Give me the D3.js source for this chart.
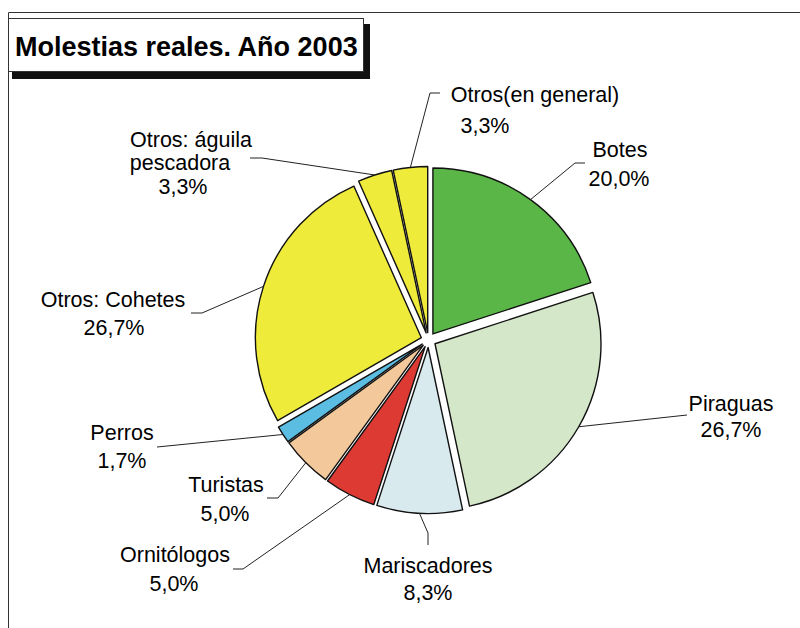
<!DOCTYPE html>
<html>
<head>
<meta charset="utf-8">
<script src="https://cdn.jsdelivr.net/npm/d3@7"></script>
<style>
    body { margin: 0; background: #fff; }
    text { font-family: "Liberation Sans", Arial, sans-serif; }
</style>
</head>
<body>
<div id="chart"></div>
<script>
// data (counts out of 60 answers)
const categories = ["Botes", "Piraguas", "Mariscadores", "Ornitólogos", "Turistas", "Perros",
    "Otros: Cohetes", "Otros: águila pescadora", "Otros(en general)"];
const counts = [12, 16, 5, 3, 3, 1, 16, 2, 2];
const labelLines = [["Botes"], ["Piraguas"], ["Mariscadores"], ["Ornitólogos"], ["Turistas"], ["Perros"],
    ["Otros: Cohetes"], ["Otros: águila", "pescadora"], ["Otros(en general)"]];
const sliceColors = ["#5ab646", "#d4e8c9", "#d8eaee", "#de3a34", "#f3c89b", "#5cbde2",
    "#efeb3a", "#efeb3a", "#efeb3a"];
const title = "Molestias reales. Año 2003";

// label placement (text line anchors + leader bends), Excel labels were dragged by hand
const labelPos = [
    {lines: [[620, 157], [619, 186]], leader: [[575, 163], [585, 163]]},
    {lines: [[731, 411], [731, 437]], leader: [[687, 415]]},
    {lines: [[428, 573], [428, 600]], leader: [[428, 533], [428, 545]]},
    {lines: [[175, 562], [174, 591]], leader: [[243, 569], [233, 569]]},
    {lines: [[226, 492], [225, 521]], leader: [[278, 498], [267, 498]]},
    {lines: [[122, 440], [122, 468]], leader: [[157, 447]]},
    {lines: [[113, 307], [114, 335]], leader: [[202, 313], [191, 313]]},
    {lines: [[191, 147], [180, 170], [183, 194]], leader: [[262, 158], [250, 158]]},
    {lines: [[535, 102], [485, 133]], leader: [[430, 93], [440, 93]]}
];

const width = 800, height = 628;
const cx = 428.5, cy = 340, radius = 166, explode = 7.5;

const svg = d3.select("#chart").append("svg")
    .attr("width", width)
    .attr("height", height);

// frame (cropped chart area)
svg.append("path")
    .attr("d", `M8.5,${height} L8.5,12.5 L${width},12.5`)
    .attr("fill", "none")
    .attr("stroke", "#333")
    .attr("stroke-width", 1);

// title box with shadow
let titleG = svg.append("g");
titleG.append("rect")
    .attr("x", 12).attr("y", 24)
    .attr("width", 358).attr("height", 55)
    .attr("fill", "#111");
titleG.append("rect")
    .attr("x", 8.5).attr("y", 18.5)
    .attr("width", 355).attr("height", 53)
    .attr("fill", "#fff")
    .attr("stroke", "#333");
titleG.append("text")
    .attr("x", 15).attr("y", 56)
    .attr("font-size", 27)
    .attr("font-weight", "bold")
    .text(title);

const total = d3.sum(counts);
const fmt = v => d3.format(".1f")(v * 100 / total).replace(".", ",") + "%";

const pie = d3.pie().sort(null).value(d => d)(counts);
const arc = d3.arc().innerRadius(0).outerRadius(radius);

const mid = d => (d.startAngle + d.endAngle) / 2;
const shift = d => [explode * Math.sin(mid(d)), -explode * Math.cos(mid(d))];

let pieG = svg.append("g").attr("transform", `translate(${cx},${cy})`);

pieG.selectAll(".slice")
    .data(pie)
    .enter()
    .append("path")
    .attr("class", "slice")
    .attr("d", arc)
    .attr("transform", d => `translate(${shift(d)[0]},${shift(d)[1]})`)
    .attr("fill", (d, i) => sliceColors[i])
    .attr("stroke", "#111")
    .attr("stroke-width", 1.4)
    .attr("stroke-linejoin", "round");

// leader lines start at the outer edge of each slice, at its mid angle
let line = d3.line();
svg.selectAll(".leader")
    .data(pie)
    .enter()
    .append("path")
    .attr("class", "leader")
    .attr("d", (d, i) => {
        let a = mid(d), s = shift(d);
        let p0 = [cx + s[0] + radius * Math.sin(a), cy + s[1] - radius * Math.cos(a)];
        return line([p0].concat(labelPos[i].leader));
    })
    .attr("fill", "none")
    .attr("stroke", "#222")
    .attr("stroke-width", 1);

// labels
pie.forEach((d, i) => {
    let texts = labelLines[i].concat([fmt(counts[i])]);
    texts.forEach((t, j) => {
        svg.append("text")
            .attr("x", labelPos[i].lines[j][0])
            .attr("y", labelPos[i].lines[j][1])
            .attr("text-anchor", "middle")
            .attr("font-size", 21.5)
            .attr("fill", "#000")
            .text(t);
    });
});
</script>
</body>
</html>
